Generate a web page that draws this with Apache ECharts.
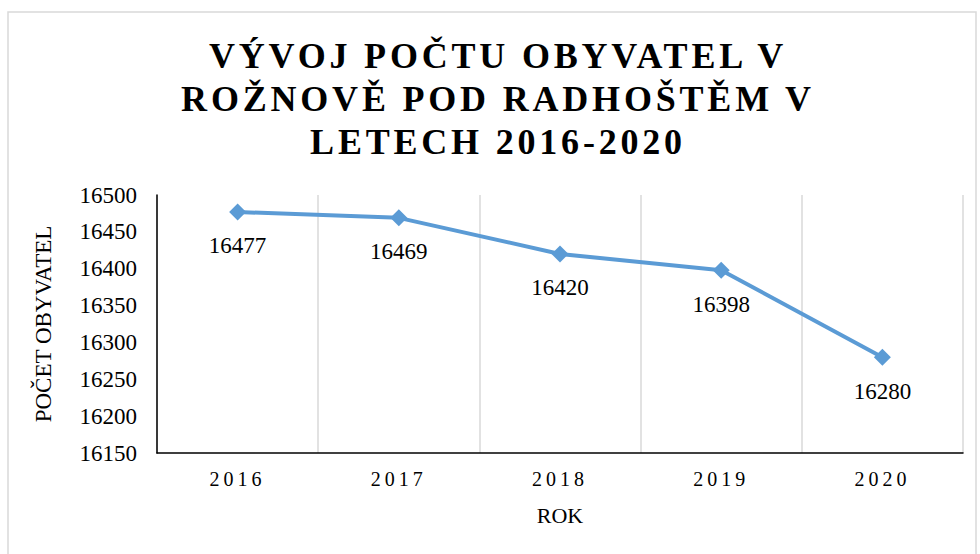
<!DOCTYPE html>
<html>
<head>
<meta charset="utf-8">
<script src="https://cdn.jsdelivr.net/npm/echarts@6/dist/echarts.min.js"></script>
<style>
  html, body { margin: 0; padding: 0; background: #fff; }
  #main { width: 980px; height: 554px; }
  /* letter spacing for the title and the year labels (svg renderer) */
  #main text[style*="36px"] { letter-spacing: 3.8px; }
  #main text[style*="20px"] { letter-spacing: 4px; }
</style>
</head>
<body>
<div id="main"></div>
<script>
var titleText = 'VÝVOJ POČTU OBYVATEL V\nROŽNOVĚ POD RADHOŠTĚM V\nLETECH 2016-2020';
var years = ['2016', '2017', '2018', '2019', '2020'];
var population = [16477, 16469, 16420, 16398, 16280];

var chartDom = document.getElementById('main');
var chart = echarts.init(chartDom, null, { renderer: 'svg' });
var serif = '"Liberation Serif", "Times New Roman", serif';

var option = {
  backgroundColor: '#fff',
  animation: false,
  graphic: [
    {
      type: 'rect',
      shape: { x: 8, y: 12, width: 968, height: 560 },
      style: { fill: 'none', stroke: '#d9d9d9', lineWidth: 1.5 },
      silent: true
    }
  ],
  title: {
    text: titleText,
    left: 498,
    textAlign: 'center',
    top: 34,
    padding: 0,
    textStyle: {
      fontFamily: serif,
      fontWeight: 'bold',
      fontSize: 36,
      lineHeight: 43,
      color: '#000'
    }
  },
  grid: {
    left: 157,
    right: 17,
    top: 195,
    bottom: 101
  },
  xAxis: {
    type: 'category',
    data: years,
    boundaryGap: true,
    name: 'ROK',
    nameLocation: 'middle',
    nameGap: 51,
    nameTextStyle: { fontFamily: serif, fontSize: 22, color: '#000' },
    axisLine: { lineStyle: { color: '#000', width: 1.5 } },
    axisTick: { show: false },
    axisLabel: { fontFamily: serif, fontSize: 20, color: '#000', margin: 16 },
    splitLine: { show: true, lineStyle: { color: '#d9d9d9', width: 1.5 } }
  },
  yAxis: {
    type: 'value',
    min: 16150,
    max: 16500,
    interval: 50,
    name: 'POČET OBYVATEL',
    nameLocation: 'middle',
    nameGap: 102,
    nameTextStyle: { fontFamily: serif, fontSize: 23, color: '#000' },
    axisLine: { show: true, lineStyle: { color: '#000', width: 1.5 } },
    axisTick: { show: false },
    axisLabel: {
      fontFamily: serif,
      fontSize: 23,
      color: '#000',
      margin: 20,
      formatter: function (v) { return String(v); }
    },
    splitLine: { show: false }
  },
  series: [
    {
      type: 'line',
      data: population,
      symbol: 'diamond',
      symbolSize: 17,
      lineStyle: { color: '#5b9bd5', width: 4 },
      itemStyle: { color: '#5b9bd5' },
      label: {
        show: true,
        position: 'bottom',
        distance: 14,
        fontFamily: serif,
        fontSize: 23,
        color: '#000'
      }
    }
  ]
};

chart.setOption(option);
</script>
</body>
</html>
